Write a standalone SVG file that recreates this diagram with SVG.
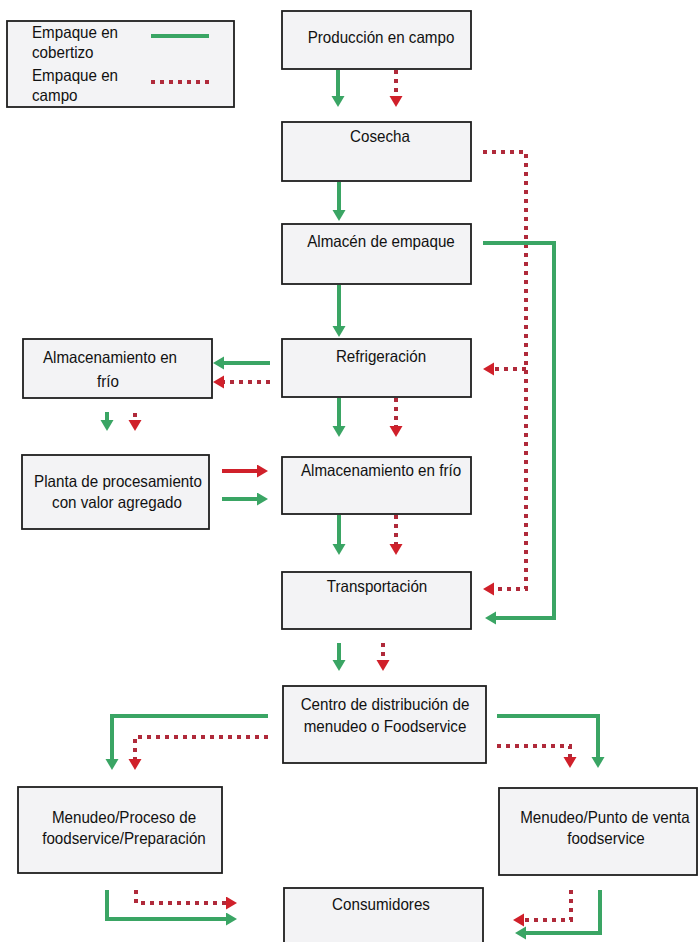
<svg xmlns="http://www.w3.org/2000/svg" width="698" height="942" viewBox="0 0 698 942">
<style>
.box{fill:#f3f3f5;stroke:#1e1e1e;stroke-width:1.8}
.t{font-family:"Liberation Sans",Arial,sans-serif;font-size:16.5px;fill:#111;text-anchor:middle}
.tl{font-family:"Liberation Sans",Arial,sans-serif;font-size:16.5px;fill:#111;text-anchor:start}
.g{fill:none;stroke:#3aa564;stroke-width:4}
.r{fill:none;stroke:#b02a3a;stroke-width:4;stroke-dasharray:4 5}
.rs{fill:none;stroke:#d0202a;stroke-width:4}
</style>
<defs>
<marker id="ag" markerUnits="userSpaceOnUse" markerWidth="12" markerHeight="14" refX="2" refY="6.5" orient="auto"><path d="M0,0 L11,6.5 L0,13 z" fill="#3aa564"/></marker>
<marker id="ar" markerUnits="userSpaceOnUse" markerWidth="12" markerHeight="14" refX="2" refY="6.5" orient="auto"><path d="M0,0 L11,6.5 L0,13 z" fill="#d0202a"/></marker>
</defs>
<rect width="698" height="942" fill="#fff"/>

<g id="legend">
<rect class="box" x="7" y="21" width="227" height="86" fill="#f6f6f8"/>
<text class="tl" transform="translate(32,38) scale(0.92,1)">Empaque en</text>
<text class="tl" transform="translate(32,58) scale(0.92,1)">cobertizo</text>
<text class="tl" transform="translate(32,81) scale(0.92,1)">Empaque en</text>
<text class="tl" transform="translate(32,101) scale(0.92,1)">campo</text>
<path class="g" d="M151,36 H209"/>
<path class="r" d="M151,82 H209"/>
</g>

<g id="produccion"><rect class="box" x="282" y="11" width="189" height="58"/><text class="t" transform="translate(381,43) scale(0.92,1)">Producción en campo</text></g>
<g id="cosecha"><rect class="box" x="282" y="122" width="189" height="59"/><text class="t" transform="translate(380,142) scale(0.92,1)">Cosecha</text></g>
<g id="almacen"><rect class="box" x="282" y="224" width="189" height="60"/><text class="t" transform="translate(381,247) scale(0.92,1)">Almacén de empaque</text></g>
<g id="refrigeracion"><rect class="box" x="282" y="339" width="189" height="58"/><text class="t" transform="translate(381,362) scale(0.92,1)">Refrigeración</text></g>
<g id="almacenamiento"><rect class="box" x="282" y="457" width="189" height="57"/><text class="t" transform="translate(381,476) scale(0.92,1)">Almacenamiento en frío</text></g>
<g id="transportacion"><rect class="box" x="282" y="572" width="189" height="57"/><text class="t" transform="translate(377,592) scale(0.92,1)">Transportación</text></g>
<g id="almacenamiento-izq"><rect class="box" x="23" y="339" width="189" height="59"/><text class="t" transform="translate(110,363) scale(0.92,1)">Almacenamiento en</text><text class="t" transform="translate(108,387) scale(0.92,1)">frío</text></g>
<g id="planta"><rect class="box" x="22" y="455" width="187" height="74"/><text class="t" transform="translate(118,487) scale(0.92,1)">Planta de procesamiento</text><text class="t" transform="translate(117,508) scale(0.92,1)">con valor agregado</text></g>
<g id="centro"><rect class="box" x="283" y="686" width="203" height="77"/><text class="t" transform="translate(385,710) scale(0.92,1)">Centro de distribución de</text><text class="t" transform="translate(385,732) scale(0.92,1)">menudeo o Foodservice</text></g>
<g id="menudeo-proceso"><rect class="box" x="18" y="787" width="204" height="86"/><text class="t" transform="translate(124,823) scale(0.92,1)">Menudeo/Proceso de</text><text class="t" transform="translate(124,844) scale(0.92,1)">foodservice/Preparación</text></g>
<g id="menudeo-punto"><rect class="box" x="499" y="788" width="198" height="87"/><text class="t" transform="translate(605,823) scale(0.92,1)">Menudeo/Punto de venta</text><text class="t" transform="translate(606,844) scale(0.92,1)">foodservice</text></g>
<g id="consumidores"><rect class="box" x="284" y="888" width="199" height="80"/><text class="t" transform="translate(381,910) scale(0.92,1)">Consumidores</text></g>

<g id="connectors">
<path class="g" d="M338,70 V98" marker-end="url(#ag)"/>
<path class="r" d="M396,70 V98" marker-end="url(#ar)"/>
<path class="g" d="M339,182 V212" marker-end="url(#ag)"/>
<path class="r" d="M483,152 H526 V589 H492" marker-end="url(#ar)"/>
<path class="r" d="M526,369 H492" marker-end="url(#ar)"/>
<path class="g" d="M483,243 H554 V618 H494" marker-end="url(#ag)"/>
<path class="g" d="M339,285 V328" marker-end="url(#ag)"/>
<path class="g" d="M270,363 H222" marker-end="url(#ag)"/>
<path class="r" d="M270,382 H222" marker-end="url(#ar)"/>
<path class="g" d="M339,398 V428" marker-end="url(#ag)"/>
<path class="r" d="M396,398 V428" marker-end="url(#ar)"/>
<path class="g" d="M107,412 V422" marker-end="url(#ag)"/>
<path class="r" d="M135,413 V422" marker-end="url(#ar)"/>
<path class="rs" d="M222,471 H259" marker-end="url(#ar)"/>
<path class="g" d="M222,499 H259" marker-end="url(#ag)"/>
<path class="g" d="M339,515 V546" marker-end="url(#ag)"/>
<path class="r" d="M396,515 V546" marker-end="url(#ar)"/>
<path class="g" d="M339,643 V662" marker-end="url(#ag)"/>
<path class="r" d="M383,643 V662" marker-end="url(#ar)"/>
<path class="g" d="M268,716 H112 V761" marker-end="url(#ag)"/>
<path class="r" d="M268,737 H135 V761" marker-end="url(#ar)"/>
<path class="g" d="M497,716 H598 V759" marker-end="url(#ag)"/>
<path class="r" d="M497,746 H570 V759" marker-end="url(#ar)"/>
<path class="g" d="M107,890 V919 H228" marker-end="url(#ag)"/>
<path class="r" d="M136,890 V903 H228" marker-end="url(#ar)"/>
<path class="g" d="M600,890 V933 H524" marker-end="url(#ag)"/>
<path class="r" d="M571,890 V920 H522" marker-end="url(#ar)"/>
</g>
</svg>
